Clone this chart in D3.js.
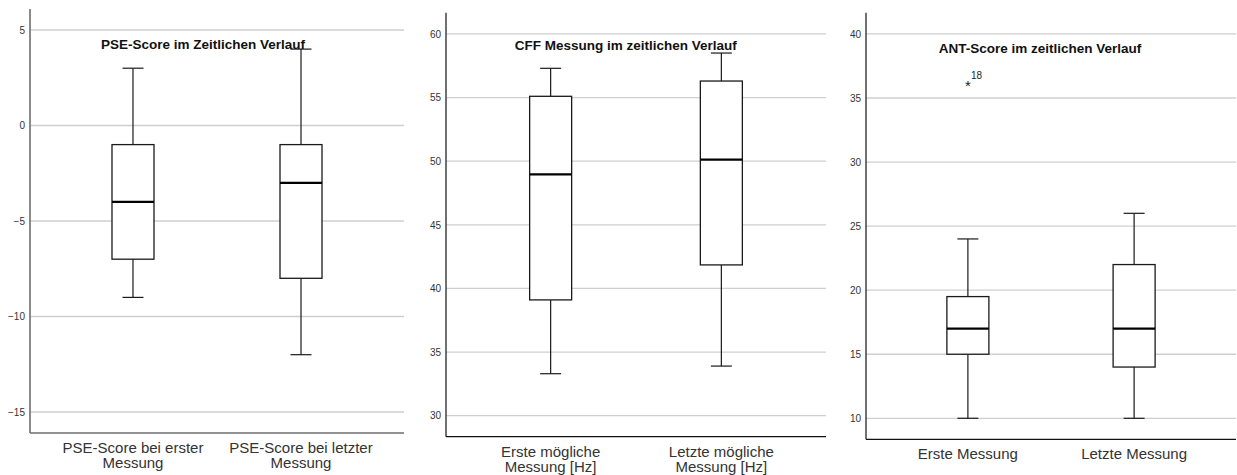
<!DOCTYPE html>
<html><head><meta charset="utf-8">
<script src="https://cdn.jsdelivr.net/npm/d3@7"></script>
<style>
body{margin:0;background:#fff;}
svg{display:block;font-family:"Liberation Sans",Arial,sans-serif;}
</style></head>
<body><svg id="chart" width="1237" height="475"></svg>
<script>
// ---- Panel 1: PSE-Score ----
const pseTitle = "PSE-Score im Zeitlichen Verlauf";
const pseCategories = [["PSE-Score bei erster","Messung"],["PSE-Score bei letzter","Messung"]];
const pseMin = [-9, -12];
const pseQ1 = [-7, -8];
const pseMedian = [-4, -3];
const pseQ3 = [-1, -1];
const pseMax = [3, 4];
const pseTicks = [-15, -10, -5, 0, 5];
const pseOutliers = [];

// ---- Panel 2: CFF ----
const cffTitle = "CFF Messung im zeitlichen Verlauf";
const cffCategories = [["Erste mögliche","Messung [Hz]"],["Letzte mögliche","Messung [Hz]"]];
const cffMin = [33.3, 33.9];
const cffQ1 = [39.1, 41.85];
const cffMedian = [48.97, 50.13];
const cffQ3 = [55.1, 56.3];
const cffMax = [57.3, 58.5];
const cffTicks = [30, 35, 40, 45, 50, 55, 60];
const cffOutliers = [];

// ---- Panel 3: ANT ----
const antTitle = "ANT-Score im zeitlichen Verlauf";
const antCategories = [["Erste Messung"],["Letzte Messung"]];
const antMin = [10, 10];
const antQ1 = [15, 14];
const antMedian = [17, 17];
const antQ3 = [19.5, 22];
const antMax = [24, 26];
const antTicks = [10, 15, 20, 25, 30, 35, 40];
const antOutliers = [{cat: 0, value: 36, label: "18"}];

const panels = [
  {title: pseTitle, cats: pseCategories, min: pseMin, q1: pseQ1, med: pseMedian, q3: pseQ3, max: pseMax, ticks: pseTicks, outliers: pseOutliers,
   domain: [-16.1, 6.1], left: 30, right: 404, top: 9, bottom: 433, titleX: 203, titleY: 48.5, labY: 453, axisColor: "#6e6e6e", axisW: 1.6},
  {title: cffTitle, cats: cffCategories, min: cffMin, q1: cffQ1, med: cffMedian, q3: cffQ3, max: cffMax, ticks: cffTicks, outliers: cffOutliers,
   domain: [28.35, 61.67], left: 446, right: 826, top: 12.7, bottom: 436.7, titleX: 625.7, titleY: 49.5, labY: 457, axisColor: "#111", axisW: 1.2},
  {title: antTitle, cats: antCategories, min: antMin, q1: antQ1, med: antMedian, q3: antQ3, max: antMax, ticks: antTicks, outliers: antOutliers,
   domain: [8.36, 41.66], left: 866, right: 1236, top: 12.7, bottom: 439.3, titleX: 1040, titleY: 53, labY: 459, axisColor: "#111", axisW: 1.2}
];

const svg = d3.select("#chart");
const boxW = 42, capW = 21;

panels.forEach(p => {
  const g = svg.append("g");
  const y = d3.scaleLinear().domain(p.domain).range([p.bottom, p.top]);
  const idx = p.cats.map((c, i) => i);
  const x = d3.scalePoint().domain(idx).range([p.left, p.right]).padding(0.613);

  // gridlines
  g.selectAll("line.grid").data(p.ticks).join("line")
    .attr("x1", p.left).attr("x2", p.right)
    .attr("y1", d => y(d)).attr("y2", d => y(d))
    .attr("stroke", "#cfcfcf").attr("stroke-width", 1.3);

  // y axis
  const yAxis = d3.axisLeft(y).tickValues(p.ticks).tickSize(0).tickPadding(5).tickFormat(d3.format("d"));
  const ya = g.append("g").attr("transform", `translate(${p.left},0)`).call(yAxis);
  ya.select(".domain").remove();
  ya.selectAll("text").attr("font-size", 10).attr("fill", "#333").attr("font-family", "'Liberation Sans',Arial,sans-serif");

  // axis lines
  g.append("line").attr("x1", p.left).attr("x2", p.left).attr("y1", p.top).attr("y2", p.bottom)
    .attr("stroke", p.axisColor).attr("stroke-width", p.axisW);
  g.append("line").attr("x1", p.left).attr("x2", p.right).attr("y1", p.bottom).attr("y2", p.bottom)
    .attr("stroke", p.axisColor).attr("stroke-width", p.axisW);

  // boxes
  idx.forEach(i => {
    const cx = x(i);
    const bg = g.append("g").attr("stroke", "#1a1a1a").attr("fill", "none");
    bg.append("line").attr("x1", cx).attr("x2", cx).attr("y1", y(p.max[i])).attr("y2", y(p.q3[i])).attr("stroke-width", 1.2);
    bg.append("line").attr("x1", cx).attr("x2", cx).attr("y1", y(p.q1[i])).attr("y2", y(p.min[i])).attr("stroke-width", 1.2);
    bg.append("line").attr("x1", cx - capW/2).attr("x2", cx + capW/2).attr("y1", y(p.max[i])).attr("y2", y(p.max[i])).attr("stroke-width", 1.2);
    bg.append("line").attr("x1", cx - capW/2).attr("x2", cx + capW/2).attr("y1", y(p.min[i])).attr("y2", y(p.min[i])).attr("stroke-width", 1.2);
    bg.append("rect").attr("x", cx - boxW/2).attr("width", boxW)
      .attr("y", y(p.q3[i])).attr("height", y(p.q1[i]) - y(p.q3[i]))
      .attr("fill", "#fff").attr("stroke-width", 1.3);
    bg.append("line").attr("x1", cx - boxW/2).attr("x2", cx + boxW/2).attr("y1", y(p.med[i])).attr("y2", y(p.med[i]))
      .attr("stroke", "#000").attr("stroke-width", 2.2);

    // category labels
    const t = g.append("text").attr("x", cx).attr("y", p.labY).attr("text-anchor", "middle")
      .attr("font-size", 15).attr("fill", "#333");
    p.cats[i].forEach((line, k) => {
      t.append("tspan").attr("x", cx).attr("dy", k === 0 ? 0 : 15).text(line);
    });
  });

  // outliers
  p.outliers.forEach(o => {
    const cx = x(o.cat), cy = y(o.value);
    g.append("text").attr("x", cx).attr("y", cy + 6).attr("text-anchor", "middle")
      .attr("font-size", 15).attr("fill", "#222").text("*");
    g.append("text").attr("x", cx + 3).attr("y", cy - 6).attr("font-size", 10).attr("fill", "#222").text(o.label);
  });

  // title
  g.append("text").attr("x", p.titleX).attr("y", p.titleY).attr("text-anchor", "middle")
    .attr("font-size", 13.5).attr("font-weight", "bold").attr("fill", "#111").text(p.title);
});
</script>
</body></html>
